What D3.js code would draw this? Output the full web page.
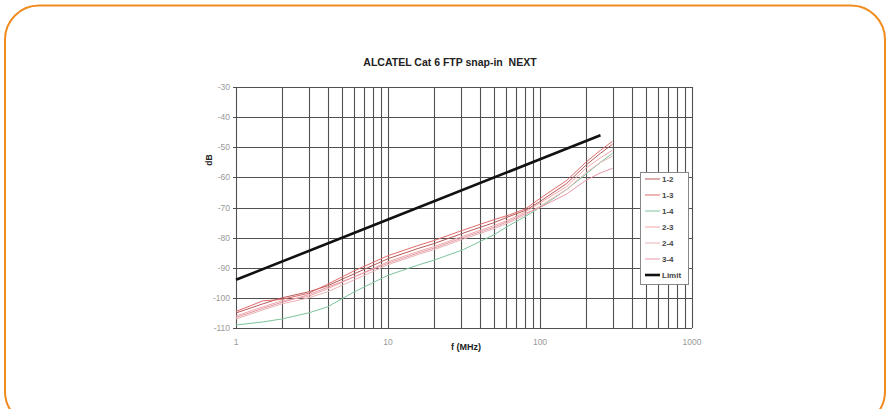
<!DOCTYPE html>
<html><head><meta charset="utf-8">
<script src="https://cdn.jsdelivr.net/npm/d3@7/dist/d3.min.js"></script>
<style>body{margin:0;background:#fff;}svg{display:block;font-family:"Liberation Sans",Arial,sans-serif;}</style>
</head><body>
<svg id="c" width="890" height="409"></svg>
<script>
const title = "ALCATEL Cat 6 FTP snap-in  NEXT";
const xLabel = "f (MHz)";
const yLabel = "dB";
const xTicks = [1, 10, 100, 1000];
const yTicks = [-30, -40, -50, -60, -70, -80, -90, -100, -110];
const freqs = [1, 1.5, 2, 3, 4, 6, 10, 16, 20, 31.25, 50, 62.5, 80, 100, 150, 200, 250, 300];
const pair12 = [-105, -102, -100, -98, -96, -92, -87, -83.5, -82, -78.5, -75, -73, -71, -68, -62, -56, -52, -49];
const pair13 = [-104.5, -101, -100.5, -98.5, -95.5, -91, -86, -82.5, -81, -77.5, -74, -72.5, -70.5, -67, -61, -55, -51, -48];
const pair14 = [-109, -108, -107, -105, -103, -98, -92.5, -89, -87.5, -84, -79, -76, -73, -70, -64, -59, -55, -52];
const pair23 = [-106, -103, -101, -99.5, -97, -93, -88, -84.5, -83, -79.5, -76, -74, -71.5, -68.5, -63, -57, -53.5, -51];
const pair24 = [-107, -104, -102, -100, -98, -94, -89, -85.5, -84, -80.5, -77, -75, -72.5, -69.5, -64, -58.5, -55, -53];
const pair34 = [-106.5, -103.5, -101.5, -99, -96.5, -93, -88.5, -85, -83.5, -80, -76.5, -74.5, -72, -70, -65.5, -61, -58.5, -57];
const limitFreqs = [1, 10, 100, 250];
const limitValues = [-94, -74, -54, -46];
const seriesNames = ["1-2", "1-3", "1-4", "2-3", "2-4", "3-4", "Limit"];

const series = [
  {name: seriesNames[0], f: freqs, v: pair12, color: "#b85a5a", w: 1},
  {name: seriesNames[1], f: freqs, v: pair13, color: "#e06a6a", w: 1},
  {name: seriesNames[2], f: freqs, v: pair14, color: "#7cc49a", w: 1},
  {name: seriesNames[3], f: freqs, v: pair23, color: "#f0a8a8", w: 1},
  {name: seriesNames[4], f: freqs, v: pair24, color: "#e8b4b4", w: 1},
  {name: seriesNames[5], f: freqs, v: pair34, color: "#e898a8", w: 1},
  {name: seriesNames[6], f: limitFreqs, v: limitValues, color: "#111", w: 2.6}
];

const svg = d3.select("#c");
svg.append("rect").attr("x", 5).attr("y", 5.5).attr("width", 880).attr("height", 420)
  .attr("rx", 34).attr("ry", 34).attr("fill", "none").attr("stroke", "#f08c1e").attr("stroke-width", 2);

const L = 236, R = 692, T = 87, B = 328;
const x = d3.scaleLog().domain([1, 1000]).range([L, R]);
const y = d3.scaleLinear().domain([-110, -30]).range([B, T]);

const g = svg.append("g");
const vLines = [];
for (let d = 1; d < 1000; d *= 10) for (let k = 1; k < 10; k++) vLines.push(d * k);
vLines.push(1000);
g.selectAll("line.v").data(vLines).join("line").attr("class", "v")
  .attr("x1", d => Math.round(x(d)) + 0.5).attr("x2", d => Math.round(x(d)) + 0.5)
  .attr("y1", T).attr("y2", B).attr("stroke", "#505050").attr("stroke-width", 1.1);
g.selectAll("line.h").data(yTicks).join("line").attr("class", "h")
  .attr("x1", L - 3).attr("x2", R).attr("y1", d => Math.round(y(d)) + 0.5).attr("y2", d => Math.round(y(d)) + 0.5)
  .attr("stroke", "#505050").attr("stroke-width", 1.1);

svg.append("g").attr("transform", `translate(${L - 6},0)`)
  .selectAll("text").data(yTicks).join("text")
  .attr("y", d => y(d) + 3).attr("text-anchor", "end").attr("font-size", 8.5).attr("fill", "#999").text(d => d);
svg.append("g").selectAll("text").data(xTicks).join("text")
  .attr("x", d => x(d)).attr("y", 345).attr("text-anchor", "middle").attr("font-size", 8.5).attr("fill", "#999").text(d => d);

svg.append("text").attr("x", 450).attr("y", 66).attr("text-anchor", "middle").attr("font-size", 10.5)
  .attr("font-weight", "bold").attr("fill", "#222").style("white-space", "pre").text(title);
svg.append("text").attr("x", 466).attr("y", 350).attr("text-anchor", "middle").attr("font-size", 9)
  .attr("font-weight", "bold").attr("fill", "#222").text(xLabel);
svg.append("text").attr("transform", "translate(212,160) rotate(-90)").attr("text-anchor", "middle").attr("font-size", 8.5)
  .attr("font-weight", "bold").attr("fill", "#222").text(yLabel);

const line = d3.line().x(d => x(d[0])).y(d => y(d[1]));
svg.append("g").selectAll("path").data(series).join("path")
  .attr("d", s => line(s.f.map((f, i) => [f, s.v[i]])))
  .attr("fill", "none").attr("stroke", s => s.color).attr("stroke-width", s => s.w);

const lg = svg.append("g");
lg.append("rect").attr("x", 640.5).attr("y", 172.5).attr("width", 48).attr("height", 112)
  .attr("fill", "#fff").attr("stroke", "#888");
const rows = lg.selectAll("g").data(series).join("g")
  .attr("transform", (d, i) => `translate(0,${179 + i * 16})`);
rows.append("line").attr("x1", 645).attr("x2", 660).attr("y1", 0).attr("y2", 0)
  .attr("stroke", d => d.color).attr("stroke-width", d => d.w);
rows.append("text").attr("x", 662).attr("y", 3).attr("font-size", 8).attr("font-weight", "bold")
  .attr("fill", "#444").text(d => d.name);
</script>
</body></html>
